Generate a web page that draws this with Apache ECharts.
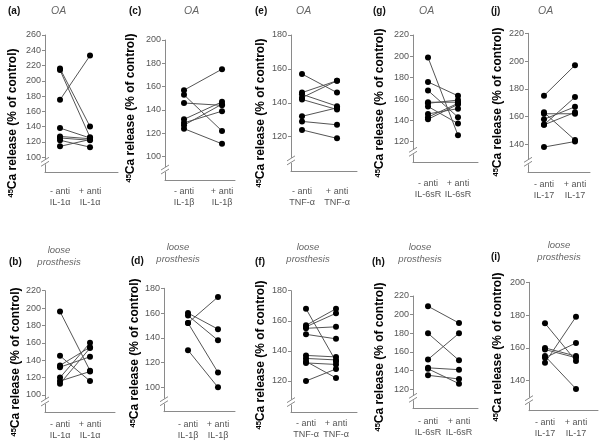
<!DOCTYPE html>
<html><head><meta charset="utf-8">
<script src="https://cdn.jsdelivr.net/npm/echarts@6/dist/echarts.min.js"></script>
<style>html,body{margin:0;padding:0;background:#fff}#c{width:600px;height:446px}</style>
</head><body><div id="c"></div>
<script>
// ---- data ----
const aBefore = [216, 214, 175, 138, 127, 125, 122, 114];
const aAfter  = [140, 126, 233, 125, 124, 122, 113, 123];
const bBefore = [196, 145, 134, 132, 120, 116, 113];
const bAfter  = [128, 116, 155, 144, 160, 127, 154];
const cBefore = [157, 153, 146, 132, 129, 127, 124];
const cAfter  = [175, 122, 144, 147, 139, 145, 111];
const dBefore = [160, 158, 152, 152, 130];
const dAfter  = [147, 138, 173, 112, 100];
const eBefore = [157, 146, 145, 143, 142, 132, 129, 124];
const eAfter  = [146, 153, 138, 153, 136, 137, 127, 119];
const fBefore = [168, 157, 156, 155, 151, 137, 135, 133, 132, 120];
const fAfter  = [133, 168, 165, 156, 148, 136, 134, 122, 131, 128];
const gBefore = [199, 176, 168, 157, 156, 153, 146, 143, 141];
const gAfter  = [126, 163, 143, 157, 159, 137, 151, 156, 155];
const hBefore = [209, 180, 152, 143, 142, 135];
const hAfter  = [191, 151, 180, 141, 126, 131];
const iBefore = [175, 160, 159, 155, 154, 151];
const iAfter  = [152, 155, 154, 135, 163, 179];
const jBefore = [175, 163, 162, 158, 154, 154, 138];
const jAfter  = [197, 143, 162, 167, 174, 163, 142];

const catsIL1a = ['- anti\nIL-1\u03b1', '+ anti\nIL-1\u03b1'];
const catsIL1b = ['- anti\nIL-1\u03b2', '+ anti\nIL-1\u03b2'];
const catsTNF  = ['- anti\nTNF-\u03b1', '+ anti\nTNF-\u03b1'];
const catsIL6  = ['- anti\nIL-6sR', '+ anti\nIL-6sR'];
const catsIL17 = ['- anti\nIL-17', '+ anti\nIL-17'];

const aTicks = [100, 120, 140, 160, 180, 200, 220, 240, 260];
const bTicks = [100, 120, 140, 160, 180, 200, 220];
const cTicks = [100, 120, 140, 160, 180, 200];
const dTicks = [100, 120, 140, 160, 180];
const eTicks = [120, 140, 160, 180];
const fTicks = [120, 140, 160, 180];
const gTicks = [120, 140, 160, 180, 200, 220];
const hTicks = [120, 140, 160, 180, 200, 220];
const iTicks = [140, 160, 180, 200];
const jTicks = [140, 160, 180, 200, 220];

const yTitleSup = '45';
const yTitleMain = 'Ca release (% of control)';
const subOA = 'OA';
const subLoose = 'loose\nprosthesis';

// ---- panels: data refs + layout ----
const panels = [
 {letter:'(a)', sub:subOA, before:aBefore, after:aAfter, cats:catsIL1a, ticks:aTicks,
  g:{left:45, top:35, width:73, height:137.3, ymin:80, ymax:260, xmin:-0.5, xmax:1.933, lm:13.5, lt:[8,11], st:[51,11], yt:[13,123]}},
 {letter:'(b)', sub:subLoose, before:bBefore, after:bAfter, cats:catsIL1a, ticks:bTicks,
  g:{left:45, top:290.7, width:70, height:121.3, ymin:80.4, ymax:220, xmin:-0.5, xmax:1.833, lm:7, lt:[9,262], st:[59,244], yt:[16,362]}},
 {letter:'(c)', sub:subOA, before:cBefore, after:cAfter, cats:catsIL1b, ticks:cTicks,
  g:{left:165, top:40, width:70, height:140, ymin:80, ymax:200, xmin:-0.5, xmax:1.342, lm:6.5, lt:[129,11], st:[184,11], yt:[131,108]}},
 {letter:'(d)', sub:subLoose, before:dBefore, after:dAfter, cats:catsIL1b, ticks:dTicks,
  g:{left:164, top:288.3, width:71, height:123.4, ymin:80.3, ymax:180, xmin:-0.8, xmax:1.567, lm:7, lt:[131,261], st:[178,241], yt:[135,353]}},
 {letter:'(e)', sub:subOA, before:eBefore, after:eAfter, cats:catsTNF, ticks:eTicks,
  g:{left:291, top:35, width:66, height:135.9, ymin:99.8, ymax:180, xmin:-0.314, xmax:1.571, lm:15, lt:[255,11], st:[296,11], yt:[261,113]}},
 {letter:'(f)', sub:subLoose, before:fBefore, after:fAfter, cats:catsTNF, ticks:fTicks,
  g:{left:291, top:290.7, width:66, height:121.9, ymin:99, ymax:180, xmin:-0.5, xmax:1.7, lm:5.5, lt:[255,262], st:[308,241], yt:[261,355]}},
 {letter:'(g)', sub:subOA, before:gBefore, after:gAfter, cats:catsIL6, ticks:gTicks,
  g:{left:413, top:35, width:65, height:127.3, ymin:100.7, ymax:220, xmin:-0.5, xmax:1.667, lm:15.5, lt:[373,11], st:[419,11], yt:[380,103]}},
 {letter:'(h)', sub:subLoose, before:hBefore, after:hAfter, cats:catsIL6, ticks:hTicks,
  g:{left:413, top:296, width:65, height:112.3, ymin:99.6, ymax:220, xmin:-0.484, xmax:1.613, lm:8, lt:[372,262], st:[420,241], yt:[380,357]}},
 {letter:'(i)', sub:subLoose, before:iBefore, after:iAfter, cats:catsIL17, ticks:iTicks,
  g:{left:529, top:282.3, width:69, height:128.4, ymin:121.7, ymax:200, xmin:-0.516, xmax:1.71, lm:6.5, lt:[491,257], st:[559,239], yt:[498,347]}},
 {letter:'(j)', sub:subOA, before:jBefore, after:jAfter, cats:catsIL17, ticks:jTicks,
  g:{left:528, top:33.3, width:62, height:139, ymin:119.8, ymax:220, xmin:-0.516, xmax:1.484, lm:6.5, lt:[491,11], st:[538,11], yt:[498,102]}}
];

const FONT = '"Liberation Sans", Arial, sans-serif';
const AX = '#8a8a8a';
const TXT = '#555';

const grids = [], xAxes = [], yAxes = [], series = [];
panels.forEach((p, i) => {
  const g = p.g;
  grids.push({left:g.left, top:g.top, width:g.width, height:g.height, containLabel:false, outerBoundsMode:'none'});
  xAxes.push({
    type:'value', gridIndex:i, min:g.xmin, max:g.xmax,
    axisLine:{show:true, onZero:false, lineStyle:{color:AX, width:1}},
    axisTick:{show:false}, splitLine:{show:false},
    axisLabel:{customValues:[0,1], formatter:(v)=>p.cats[Math.round(v)], margin:g.lm,
      fontSize:9, lineHeight:11, color:TXT, fontFamily:FONT, hideOverlap:false}
  });
  yAxes.push({
    type:'value', gridIndex:i, min:g.ymin, max:g.ymax,
    axisLine:{show:true, onZero:false, lineStyle:{color:AX, width:1}},
    axisTick:{show:true, customValues:p.ticks, length:3, lineStyle:{color:AX}},
    splitLine:{show:false},
    axisLabel:{customValues:p.ticks, margin:4, fontSize:9, color:TXT, fontFamily:FONT}
  });
  p.before.forEach((v, k) => {
    series.push({
      type:'line', xAxisIndex:i, yAxisIndex:i, animation:false, silent:true,
      data:[[0, v], [1, p.after[k]]],
      symbol:'circle', symbolSize:6,
      itemStyle:{color:'#000'}, lineStyle:{color:'#555', width:1}, z:3
    });
  });
});

const chart = echarts.init(document.getElementById('c'), null, {renderer:'canvas'});
chart.setOption({animation:false, backgroundColor:'#fff', grid:grids, xAxis:xAxes, yAxis:yAxes, series:series});

const graphic = [];
panels.forEach((p, i) => {
  const g = p.g;
  graphic.push({type:'text', x:g.lt[0], y:g.lt[1], z:100,
    style:{text:p.letter, font:'bold 10px ' + FONT, fill:'#111', align:'left', verticalAlign:'middle'}});
  const isOA = p.sub === subOA;
  graphic.push({type:'text', x:g.st[0], y:g.st[1], z:100,
    style:{text:p.sub, font:'italic ' + (isOA ? '10.5px ' : '9.5px ') + FONT, fill:'#666', align:isOA ? 'left' : 'center',
      verticalAlign:isOA ? 'middle' : 'top', lineHeight:12}});
  graphic.push({type:'text', x:g.yt[0], y:g.yt[1], rotation:Math.PI/2, z:100,
    style:{text:'{s|' + yTitleSup + '}{m|' + yTitleMain + '}', align:'center', verticalAlign:'middle',
      rich:{s:{font:'bold 7.5px ' + FONT, fill:'#000', verticalAlign:'top', lineHeight:13},
            m:{font:'bold 12px ' + FONT, fill:'#000', lineHeight:13}}}});
  // axis break mark
  const c = chart.convertToPixel({gridIndex:i}, [g.xmin, g.ymin]);
  const ax = c[0], by = c[1] - 9;
  graphic.push({type:'rect', z:100, shape:{x:ax-2, y:by-4, width:4, height:5}, style:{fill:'#fff'}});
  graphic.push({type:'line', z:101, shape:{x1:ax-4, y1:by-1, x2:ax+4, y2:by-6}, style:{stroke:AX, lineWidth:1}});
  graphic.push({type:'line', z:101, shape:{x1:ax-4, y1:by+3, x2:ax+4, y2:by-2}, style:{stroke:AX, lineWidth:1}});
});
chart.setOption({graphic:graphic});
</script>
</body></html>
